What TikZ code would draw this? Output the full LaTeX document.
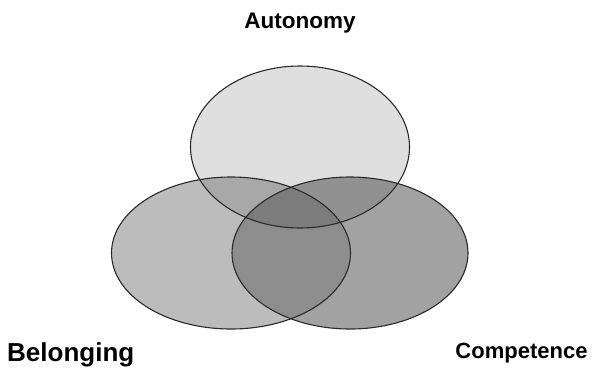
\documentclass[tikz,border=0pt]{standalone}
\usepackage{fontspec}
\setmainfont{Liberation Sans}
\definecolor{cA}{HTML}{DFDFDF}
\definecolor{cB}{HTML}{BCBCBC}
\definecolor{cC}{HTML}{A2A2A2}
\definecolor{cAB}{HTML}{A8A8A8}
\definecolor{cAC}{HTML}{919191}
\definecolor{cBC}{HTML}{8D8D8D}
\definecolor{cABC}{HTML}{7C7C7C}
\definecolor{edge}{HTML}{2A2A2A}
\tikzset{
  lbl/.style={inner sep=0pt, font=\bfseries},
  outline/.style={draw=edge, line width=1.1pt}
}
\begin{document}
\begin{tikzpicture}[x=1pt, y=-1pt]
\useasboundingbox (0,0) rectangle (596,368);
\fill[white] (0,0) rectangle (596,368);
\def\ellA{(300,147) ellipse [x radius=109.5, y radius=81]}
\def\ellB{(231,253) ellipse [x radius=119.5, y radius=76]}
\def\ellC{(350,253) ellipse [x radius=118, y radius=76]}
\fill[cA] \ellA;
\fill[cB] \ellB;
\fill[cC] \ellC;
\begin{scope}
  \clip \ellA; \fill[cAB] \ellB;
\end{scope}
\begin{scope}
  \clip \ellA; \fill[cAC] \ellC;
\end{scope}
\begin{scope}
  \clip \ellB; \fill[cBC] \ellC;
\end{scope}
\begin{scope}
  \clip \ellA; \clip \ellB; \fill[cABC] \ellC;
\end{scope}
\draw[outline] \ellA;
\draw[outline] \ellB;
\draw[outline] \ellC;
\node[lbl, font=\bfseries\fontsize{22.5}{25}\selectfont, anchor=base] (aut) at (300,28.7) {Autonomy};
\node[lbl, font=\bfseries\fontsize{26}{29}\selectfont, anchor=base west] (bel) at (7,361) {Belonging};
\node[lbl, font=\bfseries\fontsize{22}{25}\selectfont, anchor=base] (com) at (521.5,358.3) {Competence};
\end{tikzpicture}
\end{document}
